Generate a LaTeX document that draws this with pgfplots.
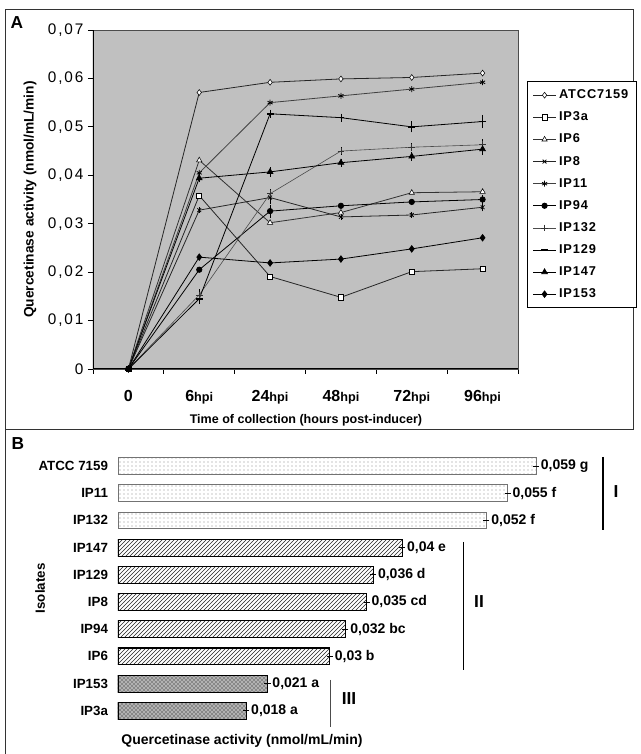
\documentclass[border=0pt]{standalone}
\usepackage{fontspec}
\setmainfont{Liberation Sans}
\newfontfamily\tickfont[LetterSpace=12]{Liberation Sans}
\newfontfamily\legfont[LetterSpace=7]{Liberation Sans}
\usepackage{pgfplots}
\pgfplotsset{compat=1.18}
\usepackage{pgfplotstable}
\usetikzlibrary{patterns}
\definecolor{bggray}{HTML}{C0C0C0}
\newcommand\hpi{{\fontsize{9.5}{10}\selectfont\bfseries hpi}}

\pgfplotstableread{
x atcc ip3a ip6 ip8 ip11 ip94 ip132 ip129 ip147 ip153 e8 e94 e132 e129 e147
0 0 0 0 0 0 0 0 0 0 0 0 0 0 0 0
1 0.0571 0.0358 0.0431 0.0328 0.0405 0.0205 0.0153 0.0145 0.0394 0.0231 0 0 0.0006 0.0005 0.0003
2 0.0592 0.0191 0.0302 0.0354 0.0550 0.0326 0.0362 0.0527 0.0407 0.0219 0.0008 0.0008 0.0004 0.0003 0.0004
3 0.0599 0.0148 0.0323 0.0314 0.0564 0.0337 0.0450 0.0519 0.0426 0.0227 0 0 0.0002 0.0003 0.0003
4 0.0602 0.0201 0.0364 0.0318 0.0578 0.0345 0.0458 0.0500 0.0439 0.0248 0 0 0.0003 0.0006 0.0003
5 0.0611 0.0207 0.0366 0.0334 0.0592 0.0350 0.0463 0.0511 0.0454 0.0271 0.0003 0.0004 0.0006 0.0008 0.0006
}\dataA

\pgfplotstableread[col sep=semicolon,row sep=\\]{
i;v;lab\\
0;0.059;0,059 g\\
1;0.055;0,055 f\\
2;0.052;0,052 f\\
}\grpI
\pgfplotstableread[col sep=semicolon,row sep=\\]{
i;v;lab\\
3;0.0401;0,04 e\\
4;0.0360;0,036 d\\
5;0.0351;0,035 cd\\
6;0.0321;0,032 bc\\
7;0.0299;0,03 b\\
}\grpII
\pgfplotstableread[col sep=semicolon,row sep=\\]{
i;v;lab\\
8;0.0211;0,021 a\\
9;0.0181;0,018 a\\
}\grpIII

\begin{document}
\begin{tikzpicture}
\begin{scope}[x=0.75pt,y=0.75pt]
\useasboundingbox (0,0) rectangle (640,754);
\coordinate (topSW) at (93,385);
\coordinate (botSW) at (118,29.6);
% panel frames
\draw[black!80, line width=0.6pt] (5,745) rectangle (633,325);
\draw[black!80, line width=0.6pt] (5,325) -- (5,0);
\node[font=\bfseries\fontsize{13}{14}\selectfont] at (17,731) {A};
\node[font=\bfseries\fontsize{13}{14}\selectfont] at (18,310) {B};
\end{scope}

\begin{axis}[
  at={(topSW)}, anchor=south west, scale only axis,
  width=318.75pt, height=254.25pt,
  xmin=-0.5, xmax=5.5, ymin=0, ymax=0.07,
  axis background/.style={fill=bggray},
  axis line style={black!70, line width=0.5pt},
  tick pos=left, tick align=outside,
  xtick={0,...,5},
  xticklabels={0,6\hpi,24\hpi,48\hpi,72\hpi,96\hpi},
  minor xtick={-0.5,0.5,1.5,2.5,3.5,4.5,5.5},
  major x tick style={draw=none},
  minor x tick style={black, line width=0.6pt},
  major y tick style={black, line width=0.6pt},
  major tick length=3.75pt, minor tick length=3.75pt,
  xticklabel style={font=\bfseries\fontsize{12}{13}\selectfont, yshift=-9pt},
  ytick={0,0.01,0.02,0.03,0.04,0.05,0.06,0.07},
  yticklabels={0,{0,01},{0,02},{0,03},{0,04},{0,05},{0,06},{0,07}},
  yticklabel style={font=\tickfont\fontsize{11.5}{12}\selectfont},
  scaled y ticks=false,
  xlabel={Time of collection (hours post-inducer)},
  xlabel style={at={(axis description cs:0.501,-0.150)}, anchor=center, font=\bfseries\fontsize{9.4}{11}\selectfont},
  ylabel={Quercetinase activity (nmol/mL/min)},
  ylabel style={at={(axis description cs:-0.148,0.5)}, anchor=center, font=\bfseries\fontsize{10.3}{12}\selectfont},
  legend style={at={(1.021,0.849)}, anchor=north west, draw=black, line width=0.8pt,
    font=\legfont\bfseries\fontsize{9.6}{11}\selectfont, row sep=4.4pt, inner xsep=4pt, inner ysep=4pt},
  legend cell align=left,
  every axis plot/.append style={line width=0.6pt},
  error bars/error bar style={line width=0.5pt, black},
  error bars/error mark options={mark size=2pt, line width=0.5pt},
]
\addplot[black!85, mark=diamond*, mark size=2.2pt, mark options={fill=white, draw=black, line width=0.4pt}] table[x=x,y=atcc]{\dataA};
\addlegendentry{ATCC7159}
\addplot[black!85, mark=square*, mark size=1.9pt, mark options={fill=white, draw=black, line width=0.5pt}] table[x=x,y=ip3a]{\dataA};
\addlegendentry{IP3a}
\addplot[black!80, mark=triangle*, mark size=2.3pt, mark options={fill=white, draw=black, line width=0.4pt}] table[x=x,y=ip6]{\dataA};
\addlegendentry{IP6}
\addplot[black!85, mark=x, mark size=2pt, mark options={solid, black},
  error bars/.cd, y dir=both, y explicit] table[x=x,y=ip8,y error=e8]{\dataA};
\addlegendentry{IP8}
\addplot[black!75, mark=asterisk, mark size=2.2pt, mark options={black, line width=0.6pt}] table[x=x,y=ip11]{\dataA};
\addlegendentry{IP11}
\addplot[black, mark=*, mark size=2pt, mark options={black},
  error bars/.cd, y dir=both, y explicit] table[x=x,y=ip94,y error=e94]{\dataA};
\addlegendentry{IP94}
\addplot[black!70, line width=0.45pt, mark=+, mark size=2.5pt, mark options={black!80, line width=0.5pt},
  error bars/.cd, y dir=both, y explicit] table[x=x,y=ip132,y error=e132]{\dataA};
\addlegendentry{IP132}
\addplot[black, mark=-, mark size=2.6pt, mark options={black, line width=1.2pt},
  error bars/.cd, y dir=both, y explicit] table[x=x,y=ip129,y error=e129]{\dataA};
\addlegendentry{IP129}
\addplot[black, mark=triangle*, mark size=2.4pt, mark options={black},
  error bars/.cd, y dir=both, y explicit] table[x=x,y=ip147,y error=e147]{\dataA};
\addlegendentry{IP147}
\addplot[black, mark=diamond*, mark size=2.4pt, mark options={black}] table[x=x,y=ip153]{\dataA};
\addlegendentry{IP153}
\draw[black, line width=1pt] (rel axis cs:0,1) -- (rel axis cs:0,0) -- (rel axis cs:1,0);
\end{axis}

\begin{axis}[
  at={(botSW)}, anchor=south west, scale only axis,
  width=372pt, height=204pt,
  xbar, bar width=0.62, bar shift=0pt,
  xmin=0, xmax=0.07, ymin=-0.5, ymax=9.5, y dir=reverse,
  axis line style={draw=none}, xtick=\empty,
  ytick={0,...,9},
  yticklabels={ATCC 7159,IP11,IP132,IP147,IP129,IP8,IP94,IP6,IP153,IP3a},
  major tick length=0pt, tick style={draw=none},
  yticklabel style={font=\bfseries\fontsize{10}{12}\selectfont, xshift=-4pt},
  nodes near coords, point meta=explicit symbolic,
  nodes near coords align={horizontal},
  nodes near coords style={font=\bfseries\fontsize{10.5}{12}\selectfont, anchor=west, xshift=0pt, black},
  xlabel={Quercetinase activity (nmol/mL/min)},
  xlabel style={at={(axis description cs:0.25,-0.061)}, anchor=center, font=\bfseries\fontsize{10.5}{12}\selectfont},
  ylabel={Isolates},
  ylabel style={at={(axis description cs:-0.157,0.5)}, anchor=center, font=\bfseries\fontsize{10}{12}\selectfont},
  error bars/x dir=both, error bars/x fixed=0.0002,
  error bars/error bar style={black, line width=0.5pt},
  error bars/error mark options={mark size=1.2pt, line width=0.5pt},
]
\addplot[draw=black!55, line width=0.7pt, pattern=dots, pattern color=black!45] table[x=v,y=i,meta=lab]{\grpI};
\addplot[draw=black, line width=0.8pt, pattern=north east lines, pattern color=black!85] table[x=v,y=i,meta=lab]{\grpII};
\addplot[draw=black, line width=0.8pt, fill=black!30, postaction={pattern=crosshatch dots, pattern color=black}] table[x=v,y=i,meta=lab]{\grpIII};
\end{axis}

\begin{scope}[x=0.75pt,y=0.75pt]
% group brackets
\draw[black, line width=1.5pt] (603,297) -- (603,224);
\node[font=\bfseries\fontsize{13}{14}\selectfont] at (616,262) {I};
\draw[black, line width=0.7pt] (463,212) -- (463,84);
\node[font=\bfseries\fontsize{13}{14}\selectfont] at (479,152) {II};
\draw[black!70, line width=0.6pt] (330,74) -- (330,27);
\node[font=\bfseries\fontsize{13}{14}\selectfont] at (349,55) {III};
\end{scope}
\end{tikzpicture}
\end{document}
